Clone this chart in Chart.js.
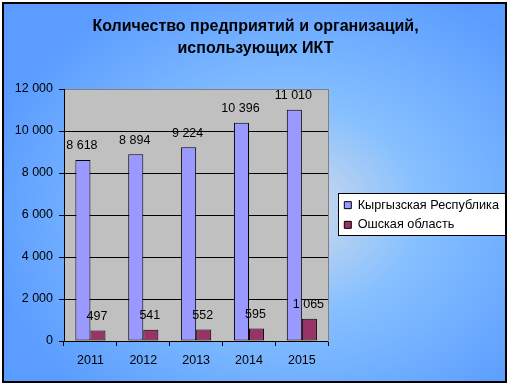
<!DOCTYPE html>
<html>
<head>
<meta charset="utf-8">
<script src="https://cdn.jsdelivr.net/npm/chart.js@4.4.0/dist/chart.umd.min.js"></script>
<style>
  html, body { margin: 0; padding: 0; background: #fff; }
  canvas { display: block; }
</style>
</head>
<body>
<canvas id="chart" width="511" height="385"></canvas>
<script>
// data
const years = ['2011', '2012', '2013', '2014', '2015'];
const kyrgyzValues = [8618, 8894, 9224, 10396, 11010];
const oshValues = [497, 541, 552, 595, 1065];
const seriesNames = ['Кыргызская Республика', 'Ошская область'];
const titleLines = ['Количество предприятий и организаций,', 'использующих ИКТ'];
const yMax = 12000;
const yStep = 2000;

const FONT = "'Liberation Sans', Arial, sans-serif";

// "8618" -> "8 618"
function fmt(v) {
  return String(v).replace(/\B(?=(\d{3})+(?!\d))/g, ' ');
}

const backdrop = {
  id: 'backdrop',
  beforeDraw(chart) {
    const ctx = chart.ctx;
    const a = chart.chartArea;
    ctx.save();
    ctx.fillStyle = '#fff';
    ctx.fillRect(0, 0, chart.width, chart.height);

    // blue gradient panel
    ctx.save();
    ctx.beginPath();
    ctx.rect(3, 3, 503, 379);
    ctx.clip();
    ctx.translate(290, 210);
    ctx.scale(1.25, 1);
    const g = ctx.createRadialGradient(0, 0, 0, 0, 0, 250);
    g.addColorStop(0, '#d4dcea');
    g.addColorStop(0.18, '#b4d0f2');
    g.addColorStop(0.42, '#86c0ff');
    g.addColorStop(1, '#5a9cff');
    ctx.fillStyle = g;
    ctx.fillRect(-400, -400, 800, 800);
    ctx.restore();

    ctx.strokeStyle = '#000';
    ctx.lineWidth = 2;
    ctx.strokeRect(3, 3, 503, 379);

    // plot area
    ctx.fillStyle = '#c0c0c0';
    ctx.fillRect(a.left, a.top, a.right - a.left, a.bottom - a.top);

    // legend frame
    const lg = chart.legend;
    if (lg && lg.legendHitBoxes && lg.legendHitBoxes.length) {
      const hb = lg.legendHitBoxes;
      const x0 = Math.round(lg.left) + 1;
      const y0 = Math.round(hb[0].top) - 6;
      const last = hb[hb.length - 1];
      const y1 = Math.round(last.top + last.height) + 4;
      const x1 = Math.round(Math.max(...hb.map(h => h.left + h.width))) + 6;
      ctx.fillStyle = '#fff';
      ctx.fillRect(x0, y0, x1 - x0, y1 - y0);
      ctx.strokeStyle = '#000';
      ctx.lineWidth = 1;
      ctx.strokeRect(x0 + 0.5, y0 + 0.5, x1 - x0, y1 - y0);
    }
    ctx.restore();
  }
};

const valueLabels = {
  id: 'valueLabels',
  afterDatasetsDraw(chart) {
    const ctx = chart.ctx;
    ctx.save();
    ctx.font = '12.5px ' + FONT;
    ctx.fillStyle = '#000';
    ctx.textAlign = 'center';
    ctx.textBaseline = 'middle';
    chart.data.datasets.forEach((ds, i) => {
      chart.getDatasetMeta(i).data.forEach((bar, j) => {
        ctx.fillText(fmt(ds.data[j]), bar.x - 1, bar.y - 14);
      });
    });
    ctx.restore();
  }
};

new Chart(document.getElementById('chart'), {
  type: 'bar',
  data: {
    labels: years,
    datasets: [
      {
        label: seriesNames[0],
        data: kyrgyzValues,
        backgroundColor: '#9999ff',
        borderColor: '#000',
        borderWidth: 1,
        borderSkipped: false
      },
      {
        label: seriesNames[1],
        data: oshValues,
        backgroundColor: '#993366',
        borderColor: '#000',
        borderWidth: 1,
        borderSkipped: false
      }
    ]
  },
  options: {
    responsive: false,
    animation: false,
    devicePixelRatio: 1,
    categoryPercentage: 0.57,
    barPercentage: 1,
    layout: { padding: { top: 4, left: 2, right: 2, bottom: 10 } },
    plugins: {
      title: {
        display: true,
        text: titleLines,
        color: '#000',
        font: { family: FONT, size: 16, weight: 'bold', lineHeight: 22 / 16 },
        padding: { top: 12, bottom: 29 }
      },
      legend: {
        position: 'right',
        fullSize: false,
        maxWidth: 220,
        labels: {
          color: '#000',
          font: { family: FONT, size: 12.7 },
          boxWidth: 7,
          boxHeight: 7,
          padding: 7
        }
      },
      tooltip: { enabled: false }
    },
    scales: {
      x: {
        grid: {
          drawOnChartArea: false,
          drawTicks: true,
          tickLength: 5,
          color: '#000',
          offset: true
        },
        border: { display: true, color: '#000', width: 1 },
        ticks: { color: '#000', font: { family: FONT, size: 12.5 }, padding: 7, maxRotation: 0 },
        afterFit(s) { s.height = 34; }
      },
      y: {
        min: 0,
        max: yMax,
        ticks: {
          stepSize: yStep,
          color: '#000',
          font: { family: FONT, size: 12.5 },
          padding: 6,
          callback: v => fmt(v)
        },
        grid: {
          color: c => (c.tick && c.tick.value === yMax ? '#808080' : '#000'),
          tickColor: '#000',
          tickLength: 5,
          lineWidth: 1
        },
        border: { display: true, color: '#000', width: 1 },
        afterFit(s) { s.width = 62; }
      },
      y2: {
        position: 'right',
        display: true,
        grid: { display: false, drawOnChartArea: false },
        ticks: { display: false },
        border: { display: true, color: '#808080', width: 1 },
        afterFit(s) { s.width = 9; }
      }
    }
  },
  plugins: [backdrop, valueLabels]
});
</script>
</body>
</html>
